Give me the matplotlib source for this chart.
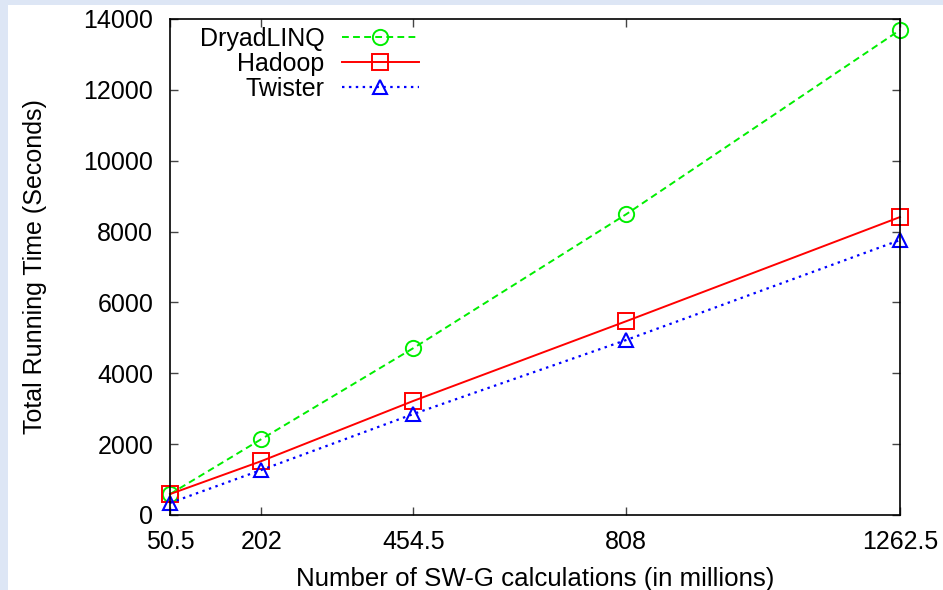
import matplotlib
matplotlib.use('Agg')
from matplotlib import pyplot as plt
from matplotlib.patches import Rectangle

# data
calcs = [50.5, 202, 454.5, 808, 1262.5]
dryad = [590, 2140, 4710, 8490, 13690]
hadoop = [590, 1520, 3220, 5470, 8410]
twister = [340, 1270, 2850, 4940, 7760]
ytick_vals = [0, 2000, 4000, 6000, 8000, 10000, 12000, 14000]

plt.rcParams['font.family'] = ['Liberation Sans', 'DejaVu Sans']
plt.rcParams['font.size'] = 18

W, H = 943, 590
fig = plt.figure(figsize=(W / 100, H / 100), dpi=100, facecolor='#dde6f5')
# white page with thin blue frame on the left and top
fig.patches.append(Rectangle((8 / W, 0), 1 - 8 / W, (H - 5) / H,
                             transform=fig.transFigure, facecolor='white',
                             edgecolor='none', zorder=-10))

ax = fig.add_axes([170 / W, (H - 515) / H, 730 / W, 496 / H])
ax.set_facecolor('white')

lw = 1.4
ax.plot(calcs, dryad, color='#00ee00', ls=(0, (3.5, 2.2)), lw=lw,
        marker='o', ms=11, mfc='none', mew=1.4, label='DryadLINQ', clip_on=False)
ax.plot(calcs, hadoop, color='#ff0000', ls='-', lw=lw,
        marker='s', ms=11, mfc='none', mew=1.4, label='Hadoop', clip_on=False)
ax.plot(calcs, twister, color='#0000ff', ls=(0, (1.1, 2.0)), lw=lw + 0.2,
        marker='^', ms=10, mfc='none', mew=1.5, label='Twister', clip_on=False)

ax.set_xlim(50.5, 1262.5)
ax.set_ylim(0, 14000)
ax.set_xticks(calcs)
ax.set_xticklabels(['50.5', '202', '454.5', '808', '1262.5'])
ax.set_yticks(ytick_vals)

ax.tick_params(direction='in', length=6, width=1, top=True, right=True,
               color='#444444')
ax.tick_params(axis='y', pad=12)
ax.tick_params(axis='x', pad=11)
for s in ax.spines.values():
    s.set_linewidth(1.2)

ax.set_xlabel('Number of SW-G calculations (in millions)', labelpad=9,
              fontsize=18.6)
ax.set_ylabel('Total Running Time (Seconds)', labelpad=26)

leg = ax.legend(loc='upper right', bbox_to_anchor=(419 / W, (H - 27) / H),
                bbox_transform=fig.transFigure, frameon=False, markerfirst=False,
                borderpad=0, borderaxespad=0, handlelength=3.1,
                handletextpad=0.68, labelspacing=0.04)
for t in leg.get_texts():
    t.set_ha('right')

fig.savefig('out.png', dpi=100, facecolor=fig.get_facecolor())
